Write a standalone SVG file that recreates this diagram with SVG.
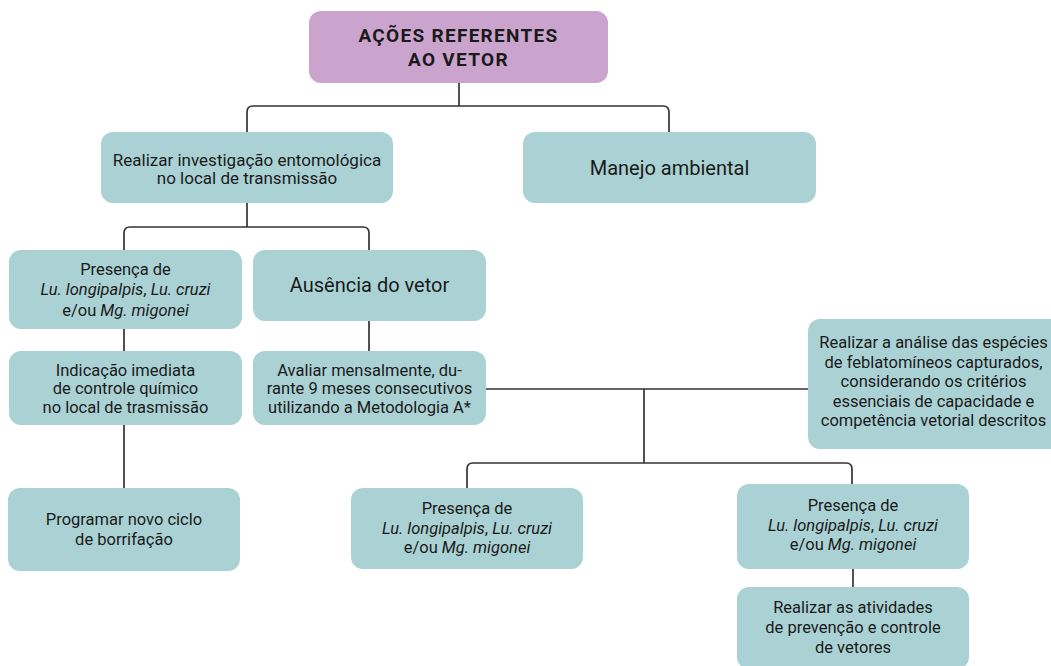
<svg xmlns="http://www.w3.org/2000/svg" width="1051" height="666" viewBox="0 0 1051 666">
<style>
.box{fill:#AAD2D4;}
.title{fill:#CBA4CD;}
text{font-family:Roboto,"Noto Sans","Liberation Sans",sans-serif;fill:#1a1a1a;text-anchor:middle;}
.t16{font-size:16.5px;}
.t165{font-size:17px;}
.t17{font-size:16.5px;}
.t20{font-size:20px;}
.tt{font-size:19px;font-weight:bold;letter-spacing:1.3px;}
.i{font-style:italic;}
.c{fill:none;stroke:#333;stroke-width:1.7;}
</style>
<rect width="1051" height="666" fill="#fff"/>
<g id="connectors">
<path class="c" d="M459,83 V106 M247,132 V112 Q247,106 253,106 H663 Q669,106 669,112 V132"/>
<path class="c" d="M247,203 V227 M124,250 V233 Q124,227 130,227 H363 Q369,227 369,233 V250"/>
<path class="c" d="M124,329 V351 M124,425 V488 M369,321 V351"/>
<path class="c" d="M486,389 H808 M644,389 V463 M467,488 V469 Q467,463 473,463 H846 Q852,463 852,469 V484"/>
<path class="c" d="M853,569 V587"/>
</g>
<g id="n-title">
<rect class="title" x="309" y="11" width="299" height="72" rx="12"/>
<text class="tt" x="458.5" y="42">AÇÕES REFERENTES</text>
<text class="tt" x="458.5" y="66">AO VETOR</text>
</g>
<g id="n-investigacao">
<rect class="box" x="101" y="132" width="292" height="71" rx="12"/>
<text class="t165" x="247" y="166">Realizar investigação entomológica</text>
<text class="t165" x="247" y="184">no local de transmissão</text>
</g>
<g id="n-manejo">
<rect class="box" x="523" y="132" width="293" height="71" rx="12"/>
<text class="t20" x="669.5" y="175">Manejo ambiental</text>
</g>
<g id="n-presenca1">
<rect class="box" x="9" y="250" width="233" height="79" rx="12"/>
<text class="t17" x="125.5" y="275">Presença de</text>
<text class="t17" x="125.5" y="295"><tspan class="i">Lu. longipalpis</tspan>, <tspan class="i">Lu. cruzi</tspan></text>
<text class="t17" x="125.5" y="316">e/ou <tspan class="i">Mg. migonei</tspan></text>
</g>
<g id="n-ausencia">
<rect class="box" x="253" y="250" width="233" height="71" rx="12"/>
<text class="t20" x="369.5" y="292">Ausência do vetor</text>
</g>
<g id="n-indicacao">
<rect class="box" x="9" y="351" width="233" height="74" rx="12"/>
<text class="t17" x="125.5" y="376">Indicação imediata</text>
<text class="t17" x="125.5" y="394">de controle químico</text>
<text class="t17" x="125.5" y="413">no local de trasmissão</text>
</g>
<g id="n-avaliar">
<rect class="box" x="253" y="351" width="233" height="74" rx="12"/>
<text class="t17" x="369.5" y="376">Avaliar mensalmente, du-</text>
<text class="t17" x="369.5" y="394">rante 9 meses consecutivos</text>
<text class="t17" x="369.5" y="413">utilizando a Metodologia A*</text>
</g>
<g id="n-programar">
<rect class="box" x="8" y="488" width="232" height="83" rx="12"/>
<text class="t17" x="124" y="525">Programar novo ciclo</text>
<text class="t17" x="124" y="545">de borrifação</text>
</g>
<g id="n-analise">
<rect class="box" x="808" y="319" width="260" height="130" rx="12"/>
<text class="t16" x="933.5" y="348">Realizar a análise das espécies</text>
<text class="t16" x="933.5" y="368">de feblatomíneos capturados,</text>
<text class="t16" x="933.5" y="387">considerando os critérios</text>
<text class="t16" x="933.5" y="407">essenciais de capacidade e</text>
<text class="t16" x="933.5" y="426">competência vetorial descritos</text>
</g>
<g id="n-presenca2">
<rect class="box" x="351" y="488" width="232" height="81" rx="12"/>
<text class="t17" x="467" y="514">Presença de</text>
<text class="t17" x="467" y="534"><tspan class="i">Lu. longipalpis</tspan>, <tspan class="i">Lu. cruzi</tspan></text>
<text class="t17" x="467" y="553">e/ou <tspan class="i">Mg. migonei</tspan></text>
</g>
<g id="n-presenca3">
<rect class="box" x="737" y="484" width="232" height="85" rx="12"/>
<text class="t17" x="853" y="511">Presença de</text>
<text class="t17" x="853" y="531"><tspan class="i">Lu. longipalpis</tspan>, <tspan class="i">Lu. cruzi</tspan></text>
<text class="t17" x="853" y="550">e/ou <tspan class="i">Mg. migonei</tspan></text>
</g>
<g id="n-atividades">
<rect class="box" x="737" y="587" width="232" height="82" rx="12"/>
<text class="t17" x="853" y="613">Realizar as atividades</text>
<text class="t17" x="853" y="633">de prevenção e controle</text>
<text class="t17" x="853" y="653">de vetores</text>
</g>
</svg>
